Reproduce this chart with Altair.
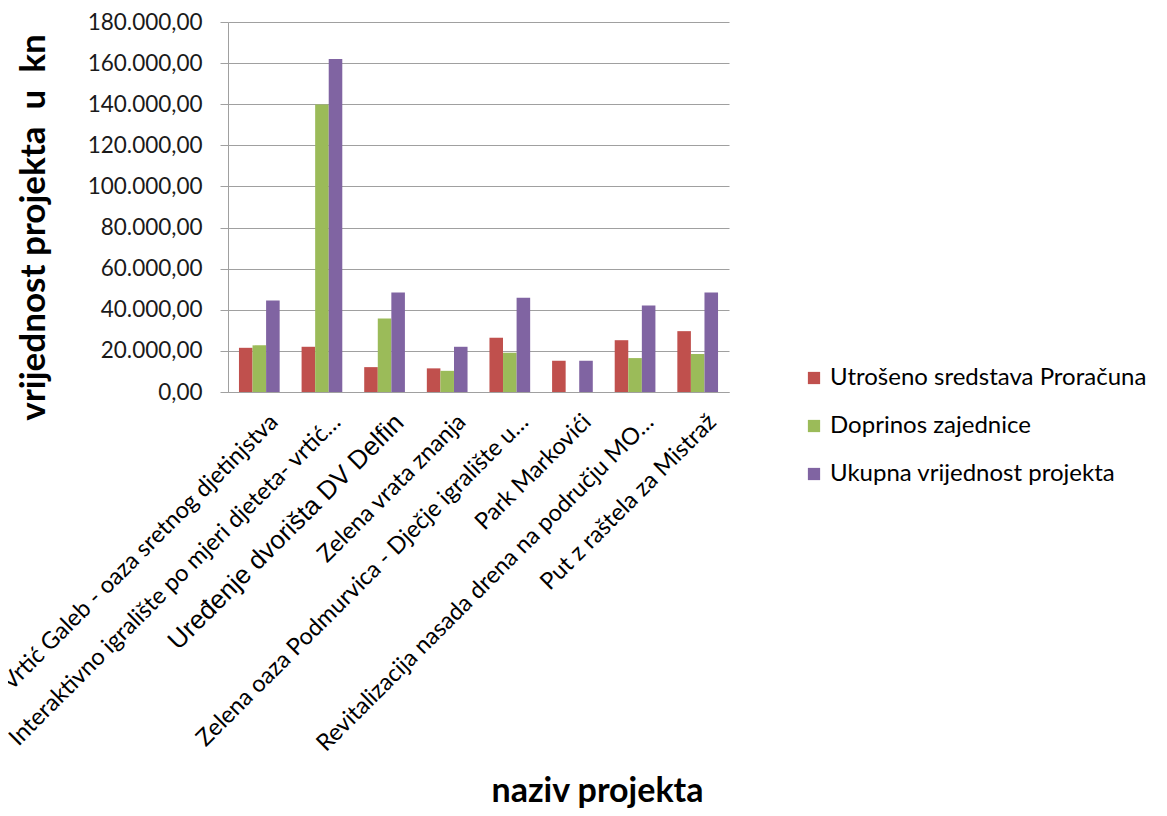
import altair as alt
import pandas as pd

projects = [
    "Vrtić Galeb - oaza sretnog djetinjstva",
    "Interaktivno igralište po mjeri djeteta- vrtić…",
    "Uređenje dvorišta DV Delfin",
    "Zelena vrata znanja",
    "Zelena oaza Podmurvica - Dječje igralište u…",
    "Park Markovići",
    "Revitalizacija nasada drena na području MO…",
    "Put z raštela za Mistraž",
]
series = ["Utrošeno sredstava Proračuna", "Doprinos zajednice", "Ukupna vrijednost projekta"]
proracun = [21500, 22000, 12100, 11500, 26400, 15200, 25200, 29600]
doprinos = [22700, 139900, 35800, 10300, 19100, 0, 16500, 18500]
ukupno = [44500, 162000, 48400, 22000, 45800, 15200, 42100, 48400]
colors = ["#C0504D", "#9BBB59", "#8064A2"]

rows = []
for i, p in enumerate(projects):
    for s, vals in zip(series, [proracun, doprinos, ukupno]):
        rows.append({"projekt": p, "serija": s, "vrijednost": vals[i]})
df = pd.DataFrame(rows)

big = "Uređenje dvorišta DV Delfin"

chart = alt.Chart(df).mark_bar().encode(
    x=alt.X(
        "projekt:N",
        sort=projects,
        scale=alt.Scale(paddingInner=0.35, paddingOuter=0.175),
        axis=alt.Axis(
            title="naziv projekta",
            titleFont="Lato",
            titleFontSize=34,
            titleFontWeight="bold",
            titleColor="#000000",
            titleX=369,
            titleY=409,
            titleAlign="center",
            titleBaseline="alphabetic",
            labelAngle=-45,
            labelAlign="right",
            labelBaseline="middle",
            labelPadding=26,
            labelOffset=15,
            labelLimit=1000,
            labelFont={"condition": {"test": f"datum.value == '{big}'", "value": "Liberation Sans"}, "value": "Lato"},
            labelFontSize={"condition": {"test": f"datum.value == '{big}'", "value": 26}, "value": 23.5},
            labelColor="#000000",
            ticks=False,
            domainColor="#A0A0A0",
            grid=False,
        ),
    ),
    xOffset=alt.XOffset("serija:N", sort=series, scale=alt.Scale(paddingInner=0, paddingOuter=0)),
    y=alt.Y(
        "vrijednost:Q",
        scale=alt.Scale(domain=[0, 180000], nice=False),
        axis=alt.Axis(
            title="vrijednost projekta\u00a0\u00a0u\u00a0\u00a0kn",
            titleFont="Lato",
            titleFontSize=35,
            titleFontWeight="bold",
            titleColor="#000000",
            titleAngle=-90,
            titleX=-184,
            titleY=205,
            titleAlign="center",
            titleBaseline="alphabetic",
            values=list(range(0, 180001, 20000)),
            labelExpr="datum.value == 0 ? '0,00' : format(datum.value / 1000, 'd') + '.000,00'",
            labelFont="Lato",
            labelFontSize=22.5,
            labelColor="#1a1a1a",
            labelPadding=18,
            tickSize=8,
            tickColor="#A0A0A0",
            domainColor="#A0A0A0",
            gridColor="#A0A0A0",
            gridWidth=1.2,
        ),
    ),
    color=alt.Color(
        "serija:N",
        sort=series,
        scale=alt.Scale(domain=series, range=colors),
        legend=alt.Legend(
            title=None,
            orient="none",
            legendX=574,
            legendY=344,
            symbolType="square",
            symbolSize=150,
            symbolStrokeWidth=0,
            labelFont="Lato",
            labelFontSize=24,
            labelColor="#000000",
            rowPadding=24,
            labelOffset=4,
            padding=0,
            labelLimit=1000,
        ),
    ),
).properties(
    width=501,
    height=370,
    autosize=alt.AutoSizeParams(type="none"),
    padding={"left": 220, "top": 14, "right": 430, "bottom": 416},
).configure_view(stroke=None)

chart.save("out.html", embed_options={"renderer": "svg", "actions": False})
